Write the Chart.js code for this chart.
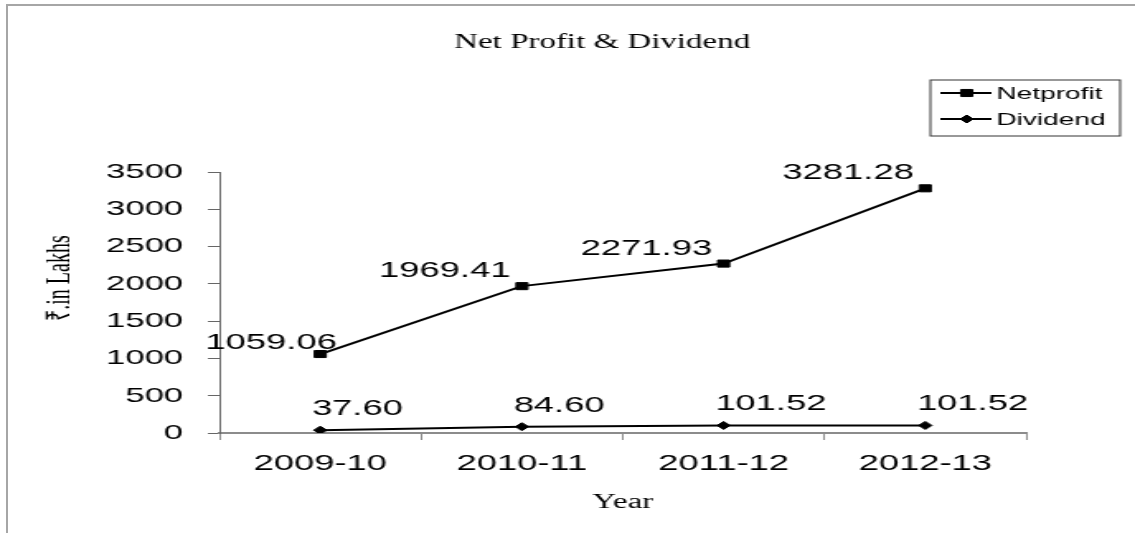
<!DOCTYPE html>
<html>
<head>
<meta charset="utf-8">
<script src="https://cdn.jsdelivr.net/npm/chart.js@4.4.1/dist/chart.umd.min.js"></script>
<style>
  html, body { margin: 0; padding: 0; background: #fff; }
  #wrap { position: relative; width: 1135px; height: 533px; overflow: hidden; }
  #frame { position: absolute; left: 6px; top: 4px; width: 1200px; height: 600px;
           border-top: 2px solid #a6a6a6; border-left: 2px solid #a6a6a6; }
  /* the original picture is stretched sideways, so the canvas is too */
  #chart { position: absolute; left: 0; top: 0; transform-origin: 0 0; transform: scaleX(1.6497); }
</style>
</head>
<body>
<div id="wrap">
  <div id="frame"></div>
  <canvas id="chart" width="688" height="533"></canvas>
</div>
<script>
const YEARS = ["2009-10", "2010-11", "2011-12", "2012-13"];
const NET_PROFIT = [1059.06, 1969.41, 2271.93, 3281.28];
const DIVIDEND = [37.60, 84.60, 101.52, 101.52];
const Y_MIN = 0;
const Y_MAX = 3500;
const Y_STEP = 500;

const SANS = "'Liberation Sans', Arial, sans-serif";
const SERIF = "'Liberation Serif', 'Times New Roman', serif";

// value labels next to every point
const pointLabels = {
  id: "pointLabels",
  afterDatasetsDraw(chart) {
    const ctx = chart.ctx;
    ctx.save();
    ctx.fillStyle = "#000";
    ctx.font = "22px " + SANS;
    ctx.textBaseline = "middle";
    chart.data.datasets.forEach((ds, i) => {
      const meta = chart.getDatasetMeta(i);
      meta.data.forEach((pt, j) => {
        const txt = ds.data[j].toFixed(2);
        if (i === 0) {
          ctx.textAlign = "right";
          // first label sits just above its marker
          if (j === 0) ctx.fillText(txt, pt.x + 10, pt.y - 11);
          else ctx.fillText(txt, pt.x - 7, pt.y - 15);
        } else {
          ctx.textAlign = "left";
          ctx.fillText(txt, pt.x - 5, pt.y - 21);
        }
      });
    });
    ctx.restore();
  },
};

// title, rotated y title and the boxed legend
const extras = {
  id: "extras",
  afterDraw(chart) {
    const ctx = chart.ctx;
    ctx.save();
    ctx.fillStyle = "#000";
    ctx.font = "20px " + SERIF;
    ctx.textAlign = "center";
    ctx.textBaseline = "middle";
    ctx.fillText("Net Profit & Dividend", 365, 43);
    ctx.translate(37, 278);
    ctx.rotate(-Math.PI / 2);
    ctx.fillText("₹.in Lakhs", 0, 0);
    ctx.restore();

    // legend
    const bx = 564, by = 80, bw = 115, bh = 56;
    ctx.save();
    ctx.strokeStyle = "#333";
    ctx.lineWidth = 1;
    ctx.strokeRect(bx, by, bw, bh);
    chart.data.datasets.forEach((ds, i) => {
      const y = by + 13 + i * 26;
      ctx.strokeStyle = ds.borderColor;
      ctx.lineWidth = ds.borderWidth;
      ctx.beginPath();
      ctx.moveTo(bx + 6, y);
      ctx.lineTo(bx + 37, y);
      ctx.stroke();
      ctx.fillStyle = ds.pointBackgroundColor;
      ctx.strokeStyle = ds.pointBorderColor;
      ctx.lineWidth = ds.pointBorderWidth;
      Chart.helpers.drawPoint(ctx, { pointStyle: ds.pointStyle, radius: ds.pointRadius, borderWidth: ds.pointBorderWidth }, bx + 22, y);
      ctx.fillStyle = "#000";
      ctx.font = "17px " + SANS;
      ctx.textAlign = "left";
      ctx.textBaseline = "middle";
      ctx.fillText(ds.label, bx + 40, y + 1);
    });
    ctx.restore();
  },
};

new Chart(document.getElementById("chart"), {
  type: "line",
  data: {
    labels: YEARS,
    datasets: [
      {
        label: "Netprofit",
        data: NET_PROFIT,
        borderColor: "#000",
        backgroundColor: "#000",
        borderWidth: 2,
        pointStyle: "rect",
        pointRadius: 5,
        pointBorderWidth: 1,
        pointBackgroundColor: "#000",
        pointBorderColor: "#000",
        tension: 0,
      },
      {
        label: "Dividend",
        data: DIVIDEND,
        borderColor: "#000",
        backgroundColor: "#000",
        borderWidth: 2,
        pointStyle: "rectRot",
        pointRadius: 4,
        pointBorderWidth: 1,
        pointBackgroundColor: "#000",
        pointBorderColor: "#000",
        tension: 0,
      },
    ],
  },
  options: {
    responsive: false,
    devicePixelRatio: 1,
    animation: false,
    events: [],
    layout: { padding: { left: 0, right: 66, top: 172, bottom: 0 } },
    plugins: {
      legend: { display: false },
      tooltip: { enabled: false },
    },
    scales: {
      x: {
        offset: true,
        grid: { offset: true, drawOnChartArea: false, tickLength: 7, color: "#8c8c8c", lineWidth: 1 },
        border: { color: "#8c8c8c", width: 2 },
        ticks: { color: "#000", font: { family: SANS, size: 22 }, padding: 11, maxRotation: 0, autoSkip: false },
        title: {
          display: true,
          text: "Year",
          color: "#000",
          font: { family: SERIF, size: 20 },
          padding: { top: 0, bottom: 18 },
        },
        afterFit(scale) {
          scale.height = 100;
        },
      },
      y: {
        min: Y_MIN,
        max: Y_MAX,
        grid: { drawOnChartArea: false, tickLength: 7, color: "#666" },
        border: { color: "#666", width: 1 },
        ticks: {
          stepSize: Y_STEP,
          color: "#000",
          font: { family: SANS, size: 21 },
          padding: 15,
          callback: (v) => String(v),
        },
        afterFit(scale) {
          scale.width = 133;
        },
      },
    },
  },
  plugins: [pointLabels, extras],
});
</script>
</body>
</html>
